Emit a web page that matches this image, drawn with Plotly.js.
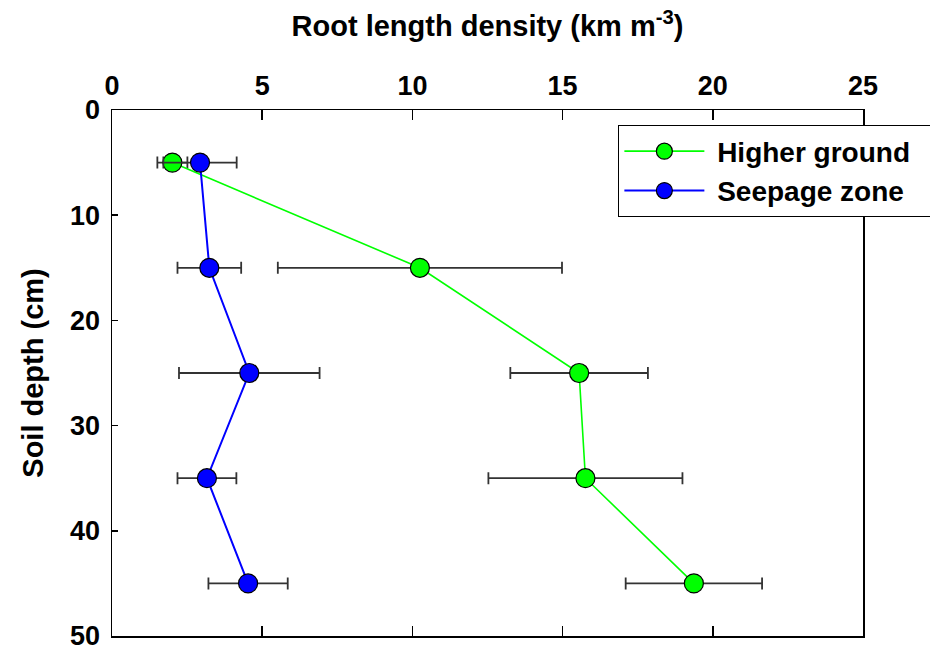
<!DOCTYPE html>
<html>
<head>
<meta charset="utf-8">
<script src="https://cdn.plot.ly/plotly-3.0.1.min.js"></script>
<style>html,body{margin:0;padding:0;background:#fff;}#chart{width:930px;height:650px;}</style>
</head>
<body>
<div id="chart"></div>
<script>
const depths = [5, 15, 25, 35, 45];
const higherGround = [2.01, 10.25, 15.55, 15.76, 19.37];
const higherGroundErr = [0.5, 4.73, 2.29, 3.23, 2.27];
const seepageZone = [2.93, 3.24, 4.57, 3.16, 4.53];
const seepageZoneErr = [1.22, 1.06, 2.34, 0.98, 1.32];
const xTicks = [0, 5, 10, 15, 20, 25];
const yTicks = [0, 10, 20, 30, 40, 50];
const seriesNames = ['Higher ground', 'Seepage zone'];

const fam = 'Liberation Sans, Arial, sans-serif';
const tickFont = {family: fam, size: 27, color: '#000', weight: 'bold'};
const titleFont = {family: fam, size: 29, color: '#000', weight: 'bold'};
const pad = '\u00a0';

const traces = [
  {
    name: pad + seriesNames[0] + pad + pad, x: higherGround, y: depths, type: 'scatter', mode: 'lines+markers',
    line: {color: '#00ff00', width: 1.6},
    marker: {color: '#00ff00', size: 19, line: {color: '#000', width: 1.2}},
    error_x: {type: 'data', array: higherGroundErr, visible: true, color: '#333', thickness: 1.8, width: 6}
  },
  {
    name: pad + seriesNames[1] + pad + pad, x: seepageZone, y: depths, type: 'scatter', mode: 'lines+markers',
    line: {color: '#0000ff', width: 2},
    marker: {color: '#0000ff', size: 19, line: {color: '#000', width: 1.2}},
    error_x: {type: 'data', array: seepageZoneErr, visible: true, color: '#333', thickness: 1.8, width: 6}
  }
];

const layout = {
  width: 930, height: 650,
  margin: {l: 112, r: 67, t: 110, b: 14, autoexpand: false},
  paper_bgcolor: '#fff', plot_bgcolor: '#fff',
  font: tickFont,
  showlegend: true,
  legend: {
    x: 0.674, y: 0.971, xanchor: 'left', yanchor: 'top',
    bordercolor: '#000', borderwidth: 1.2, bgcolor: '#fff',
    font: {family: fam, size: 28, color: '#000', weight: 'bold'},
    itemwidth: 80, tracegroupgap: 0
  },
  xaxis: {
    side: 'top', range: [0, 25], tickvals: xTicks, ticktext: xTicks.map(String),
    ticks: 'inside', ticklen: 10, tickwidth: 1.5, tickcolor: '#000',
    showline: true, linecolor: '#000', linewidth: 1.5, mirror: 'ticks',
    showgrid: false, zeroline: false, automargin: false,
    ticklabelstandoff: 3, ticklabeloverflow: 'allow',
    tickfont: tickFont,
    title: {text: 'Root length density (km m<sup>-3</sup>)', standoff: 25, font: titleFont}
  },
  yaxis: {
    range: [50, 0], tickvals: yTicks, ticktext: yTicks.map(String),
    ticks: 'inside', ticklen: 6, tickwidth: 1.5, tickcolor: '#000',
    showline: true, linecolor: '#000', linewidth: 1.5, mirror: true,
    showgrid: false, zeroline: false, automargin: false,
    ticklabelstandoff: 5, ticklabeloverflow: 'allow',
    tickfont: tickFont,
    title: {text: 'Soil depth (cm)', standoff: 18, font: titleFont}
  }
};

Plotly.newPlot('chart', traces, layout, {displayModeBar: false, staticPlot: true});
</script>
</body>
</html>
